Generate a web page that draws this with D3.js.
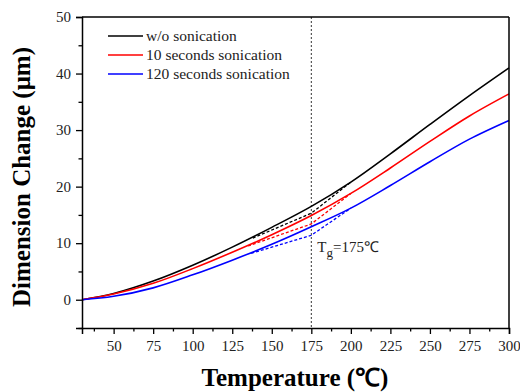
<!DOCTYPE html>
<html>
<head>
<meta charset="utf-8">
<script src="https://cdn.jsdelivr.net/npm/d3@7"></script>
<style>
  body { margin: 0; background: #fff; }
  svg text { font-family: 'Liberation Serif', 'Times New Roman', serif; }
</style>
</head>
<body>
<div id="chart"></div>
<script>
// temperatures (°C) and dimension change (µm)
const temps = [30, 50, 75, 100, 125, 150, 175, 200, 225, 250, 275, 300];
const noSonic = [0, 1.1, 3.3, 6.1, 9.3, 12.8, 16.5, 20.8, 25.8, 31.0, 36.1, 41.0];
const sonic10 = [0, 1.0, 2.9, 5.5, 8.4, 11.5, 14.9, 18.8, 23.3, 28.0, 32.5, 36.4];
const sonic120 = [0, 0.6, 2.1, 4.4, 7.0, 9.8, 12.9, 16.2, 20.2, 24.4, 28.4, 31.7];

// tangent construction lines around Tg
const tanTemps = [[138, 175, 200], [135, 175, 200], [137, 175, 200]];
const tanNoSonic = [10.9, 15.3, 20.8];
const tanSonic10 = [9.5, 13.4, 18.8];
const tanSonic120 = [8.2, 11.4, 16.2];

const seriesNames = ["w/o sonication", "10 seconds sonication", "120 seconds sonication"];
const seriesColors = ["#000000", "#ff0000", "#0000ff"];
const xTicks = [50, 75, 100, 125, 150, 175, 200, 225, 250, 275, 300];
const yTicks = [0, 10, 20, 30, 40, 50];
const tg = 175;

const W = 520, H = 392;
const margin = {top: 17, right: 11, bottom: 64, left: 82};
const serif = "'Liberation Serif', 'Times New Roman', serif";

const svg = d3.select("#chart").append("svg")
    .attr("width", W).attr("height", H);

const x = d3.scaleLinear().domain([30, 300]).range([margin.left, W - margin.right]);
const y = d3.scaleLinear().domain([-5, 50]).range([H - margin.bottom, margin.top]);

// vertical Tg line
svg.append("line")
    .attr("x1", x(tg)).attr("x2", x(tg))
    .attr("y1", y(50)).attr("y2", y(-5))
    .attr("stroke", "#000").attr("stroke-width", 0.8)
    .attr("stroke-dasharray", "2,2");

const line = d3.line()
    .x(d => x(d[0])).y(d => y(d[1]))
    .curve(d3.curveCatmullRom);

const tanLine = d3.line()
    .x(d => x(d[0])).y(d => y(d[1]));

const allSeries = [noSonic, sonic10, sonic120];
const allTans = [tanNoSonic, tanSonic10, tanSonic120];

allTans.forEach((vals, i) => {
    svg.append("path")
        .datum(tanTemps[i].map((t, j) => [t, vals[j]]))
        .attr("d", tanLine)
        .attr("fill", "none")
        .attr("stroke", seriesColors[i])
        .attr("stroke-width", 1.3)
        .attr("stroke-dasharray", "3,2");
});

allSeries.forEach((vals, i) => {
    svg.append("path")
        .datum(temps.map((t, j) => [t, vals[j]]))
        .attr("d", line)
        .attr("fill", "none")
        .attr("stroke", seriesColors[i])
        .attr("stroke-width", 1.6);
});

// axes
svg.append("g")
    .attr("transform", `translate(0,${y(-5)})`)
    .call(d3.axisBottom(x).tickValues(xTicks).tickSize(6).tickPadding(6));
svg.append("g")
    .attr("transform", `translate(0,${y(-5)})`)
    .call(d3.axisBottom(x).tickValues(d3.range(37.5, 300, 25)).tickSize(3.5).tickFormat(""))
    .select(".domain").remove();

svg.append("g")
    .attr("transform", `translate(${x(30)},0)`)
    .call(d3.axisLeft(y).tickValues(yTicks).tickSize(6).tickPadding(5));
svg.append("g")
    .attr("transform", `translate(${x(30)},0)`)
    .call(d3.axisLeft(y).tickValues([-5, 5, 15, 25, 35, 45]).tickSize(3.5).tickFormat(""))
    .select(".domain").remove();

svg.selectAll("g").attr("font-family", serif);
svg.selectAll(".tick line").attr("stroke-width", 1.3);
svg.selectAll(".domain").attr("stroke-width", 1.5);
svg.selectAll(".tick text")
    .style("font-family", serif)
    .style("font-size", "15px")
    .attr("fill", "#222");

// top and right frame
svg.append("line")
    .attr("x1", x(30)).attr("x2", x(300)).attr("y1", y(50)).attr("y2", y(50))
    .attr("stroke", "#000").attr("stroke-width", 1.5);
svg.append("line")
    .attr("x1", x(300)).attr("x2", x(300)).attr("y1", y(50)).attr("y2", y(-5))
    .attr("stroke", "#000").attr("stroke-width", 1.5);

// legend
const legend = svg.append("g");
seriesNames.forEach((name, i) => {
    const ly = 36 + i * 19;
    legend.append("line")
        .attr("x1", 108).attr("x2", 143).attr("y1", ly).attr("y2", ly)
        .attr("stroke", seriesColors[i]).attr("stroke-width", 1.6);
    legend.append("text")
        .attr("x", 146).attr("y", ly + 5)
        .style("font-family", serif)
        .style("font-size", "15.5px")
        .attr("fill", "#222")
        .text(name);
});

// Tg annotation
const ann = svg.append("text")
    .attr("x", x(tg) + 6).attr("y", 252)
    .style("font-family", serif)
    .style("font-size", "15px")
    .attr("fill", "#222");
ann.append("tspan").text("T");
ann.append("tspan").attr("dy", 5).style("font-size", "13px").text("g");
ann.append("tspan").attr("dy", -5).text("=175℃");

// axis titles
svg.append("text")
    .attr("x", 295).attr("y", 386)
    .attr("text-anchor", "middle")
    .style("font-family", serif)
    .style("font-size", "25px").style("font-weight", "bold")
    .text("Temperature (℃)");

svg.append("text")
    .attr("transform", "translate(30,177) rotate(-90)")
    .attr("text-anchor", "middle")
    .style("font-family", serif)
    .style("font-size", "25px").style("font-weight", "bold")
    .text("Dimension Change (μm)");
</script>
</body>
</html>
